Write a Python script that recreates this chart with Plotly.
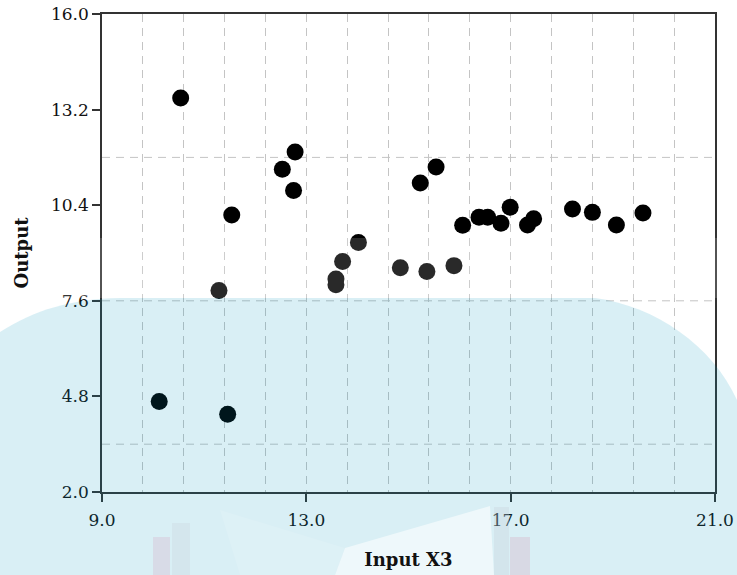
import plotly.graph_objects as go

# ---- data ----
input_x3 = [10.54, 11.54, 11.29, 10.12, 11.46, 12.53, 12.78, 12.75, 13.58, 13.58,
            13.71, 14.02, 14.84, 15.36, 15.89, 15.23, 15.54, 16.06, 16.38, 16.55,
            16.81, 16.99, 17.33, 17.45, 18.21, 18.60, 19.07, 19.59]
output = [13.54, 10.11, 7.90, 4.65, 4.28, 11.45, 11.96, 10.83, 8.07, 8.24,
          8.75, 9.31, 8.57, 8.46, 8.63, 11.05, 11.52, 9.81, 10.05, 10.05,
          9.87, 10.34, 9.82, 10.00, 10.29, 10.19, 9.82, 10.17]

x_tickvals = [9.0, 13.0, 17.0, 21.0]
y_tickvals = [2.0, 4.8, 7.6, 10.4, 13.2, 16.0]
y_gridvals = [3.4, 7.6, 11.8]

# ---- layout geometry (pixels) for decorative background ----
W, H = 737, 575
L, R, T, B = 102, 22, 14, 83
PW, PH = W - L - R, H - T - B


def fx(px):
    return (px - L) / PW


def fy(py):
    return (H - B - py) / PH


fig = go.Figure()
fig.add_trace(go.Scatter(
    x=input_x3, y=output, mode="markers",
    marker=dict(size=17, color="#000000", line=dict(width=0)),
    showlegend=False, hoverinfo="x+y"))

grid_color = "#c4c4c4"
for gv in y_gridvals:
    fig.add_hline(y=gv, line=dict(color=grid_color, width=1, dash="8px,6px"), layer="below")

tick_font = dict(family="DejaVu Serif", size=17, color="#111111")
title_font = dict(family="DejaVu Serif", size=18, color="#111111")

fig.update_xaxes(
    range=[9, 21], tickmode="array", tickvals=x_tickvals, tickformat=".1f",
    ticks="outside", ticklen=8, tickwidth=1.5, tickcolor="#333",
    showline=True, linecolor="#333", linewidth=1.5, mirror=True,
    showgrid=True, gridcolor=grid_color, gridwidth=1, griddash="8px,6px",
    zeroline=False, tickfont=tick_font, automargin=False, ticklabelstandoff=4,
    minor=dict(tick0=9, dtick=0.8, showgrid=True, gridcolor=grid_color,
               gridwidth=1, griddash="8px,6px", ticks=""),
    title=dict(text="<b>Input X3</b>", font=title_font, standoff=24))
fig.update_yaxes(
    range=[2, 16], tickmode="array", tickvals=y_tickvals, tickformat=".1f",
    ticks="outside", ticklen=8, tickwidth=1.5, tickcolor="#333",
    showline=True, linecolor="#333", linewidth=1.5, mirror=True,
    showgrid=False, zeroline=False, tickfont=tick_font, automargin=False,
    title=dict(text="<b>Output</b>", font=title_font, standoff=18))

# decorative translucent background overlays
blue_path = (f"M {fx(0)} {fy(575)} L {fx(0)} {fy(332)} "
             f"C {fx(35)} {fy(310)}, {fx(70)} {fy(299)}, {fx(120)} {fy(298)} "
             f"L {fx(595)} {fy(298)} "
             f"C {fx(655)} {fy(306)}, {fx(712)} {fy(345)}, {fx(737)} {fy(400)} "
             f"L {fx(737)} {fy(575)} Z")
shapes = [
    dict(type="rect", xref="paper", yref="paper", x0=fx(0), x1=fx(737), y0=fy(298), y1=fy(238),
         fillcolor="rgba(255,255,255,0.16)", line=dict(width=0), layer="above"),
    dict(type="path", xref="paper", yref="paper", path=blue_path,
         fillcolor="rgba(0,148,188,0.15)", line=dict(width=0), layer="above"),
    dict(type="path", xref="paper", yref="paper",
         path=(f"M {fx(335)} {fy(575)} L {fx(345)} {fy(548)} L {fx(490)} {fy(506)} "
               f"L {fx(494)} {fy(575)} Z"),
         fillcolor="rgba(255,255,255,0.55)", line=dict(width=0), layer="above"),
    dict(type="path", xref="paper", yref="paper",
         path=(f"M {fx(220)} {fy(510)} L {fx(345)} {fy(548)} L {fx(335)} {fy(575)} "
               f"L {fx(240)} {fy(575)} Z"),
         fillcolor="rgba(255,255,255,0.12)", line=dict(width=0), layer="above"),
    dict(type="rect", xref="paper", yref="paper", x0=fx(153), x1=fx(170), y0=fy(575), y1=fy(537),
         fillcolor="rgba(215,150,180,0.22)", line=dict(width=0), layer="above"),
    dict(type="rect", xref="paper", yref="paper", x0=fx(172), x1=fx(190), y0=fy(575), y1=fy(523),
         fillcolor="rgba(200,205,215,0.25)", line=dict(width=0), layer="above"),
    dict(type="rect", xref="paper", yref="paper", x0=fx(494), x1=fx(509), y0=fy(575), y1=fy(507),
         fillcolor="rgba(200,205,215,0.3)", line=dict(width=0), layer="above"),
    dict(type="rect", xref="paper", yref="paper", x0=fx(510), x1=fx(530), y0=fy(575), y1=fy(537),
         fillcolor="rgba(215,150,180,0.25)", line=dict(width=0), layer="above"),
]
for s in shapes:
    fig.add_shape(**s)

fig.update_layout(
    width=W, height=H, autosize=False,
    margin=dict(l=L, r=R, t=T, b=B, autoexpand=False),
    paper_bgcolor="#ffffff", plot_bgcolor="#ffffff",
    showlegend=False)

fig.write_html("out.html", config={"displayModeBar": False},
               post_script="document.body.style.margin='0';document.body.style.overflow='hidden';")
